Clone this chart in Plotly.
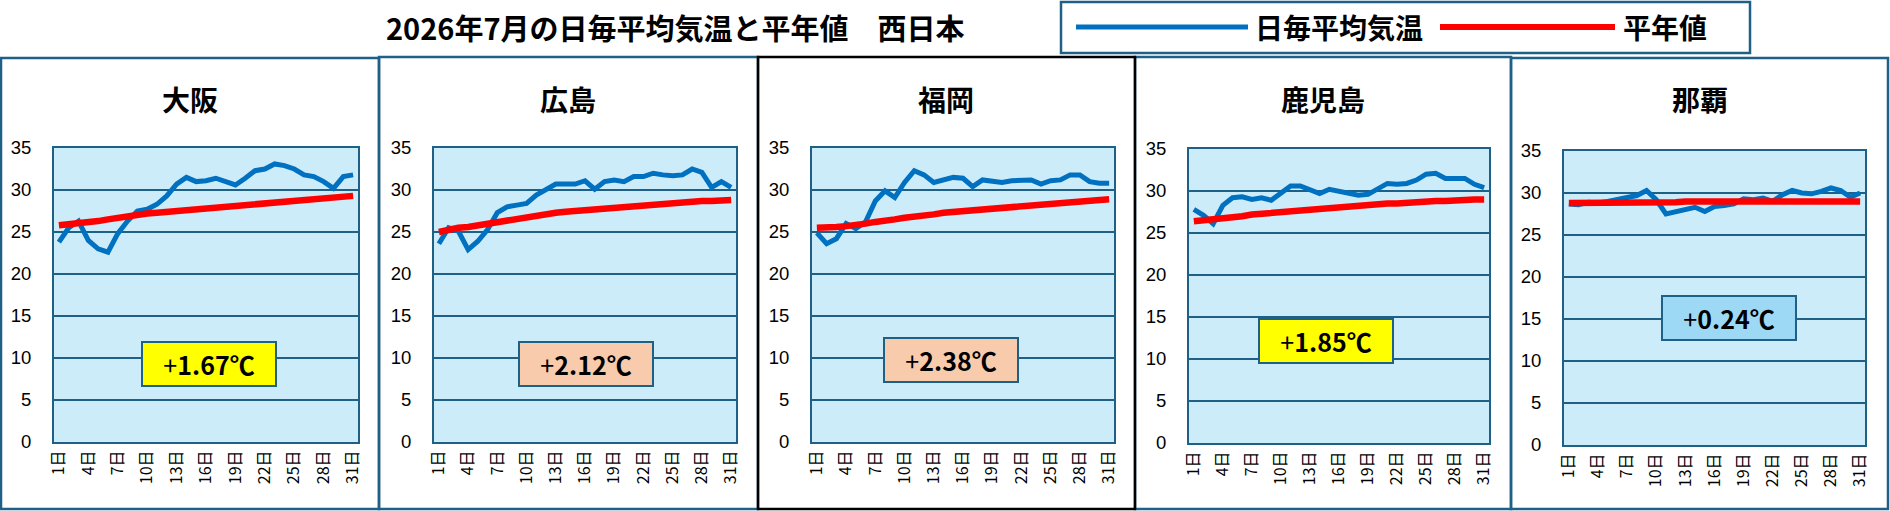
import plotly.graph_objects as go

W, H = 1890, 511

# ---------------- data ----------------
days = list(range(1, 32))
tick_days = [1, 4, 7, 10, 13, 16, 19, 22, 25, 28, 31]
tick_labels = ["1日", "4日", "7日", "10日", "13日", "16日", "19日", "22日", "25日", "28日", "31日"]
y_ticks = [0, 5, 10, 15, 20, 25, 30, 35]

stations = ["大阪", "広島", "福岡", "鹿児島", "那覇"]
anomaly_values = ["1.67", "2.12", "2.38", "1.85", "0.24"]
series_names = ["日毎平均気温", "平年値"]

osaka_daily = [23.8, 25.5, 26.3, 24.0, 23.0, 22.6, 24.8, 26.3, 27.5, 27.7, 28.3, 29.3, 30.7, 31.5, 31.0, 31.1,
               31.4, 31.0, 30.6, 31.4, 32.3, 32.5, 33.1, 32.9, 32.5, 31.8, 31.6, 31.0, 30.2, 31.6, 31.8]
osaka_normal = [25.8, 25.9, 26.0, 26.1, 26.3, 26.5, 26.7, 26.9, 27.1, 27.2, 27.3, 27.4, 27.5, 27.6, 27.7, 27.8,
                27.9, 28.0, 28.1, 28.2, 28.3, 28.4, 28.5, 28.6, 28.8, 28.9, 29.0, 29.1, 29.2, 29.3, 29.3]

hiroshima_daily = [23.6, 25.5, 25.1, 22.9, 23.9, 25.3, 27.3, 28.0, 28.2, 28.4, 29.4, 30.1, 30.7, 30.7, 30.7, 31.1,
                   30.1, 31.0, 31.2, 31.0, 31.6, 31.6, 32.0, 31.8, 31.7, 31.8, 32.5, 32.1, 30.3, 31.0, 30.3]
hiroshima_normal = [25.0, 25.3, 25.5, 25.6, 25.8, 26.0, 26.2, 26.4, 26.6, 26.8, 27.0, 27.2, 27.3, 27.4, 27.5, 27.6,
                    27.7, 27.8, 27.9, 28.0, 28.1, 28.2, 28.3, 28.4, 28.5, 28.5, 28.6, 28.7, 28.7, 28.8, 28.8]

fukuoka_daily = [24.9, 23.6, 24.2, 26.0, 25.4, 26.2, 28.7, 29.9, 29.1, 30.9, 32.3, 31.8, 30.9, 31.2, 31.5, 31.4,
                 30.4, 31.2, 31.0, 30.9, 31.1, 31.1, 31.2, 30.7, 31.1, 31.2, 31.8, 31.8, 31.0, 30.8, 30.8]
fukuoka_normal = [25.5, 25.5, 25.6, 25.7, 25.8, 26.0, 26.2, 26.3, 26.5, 26.7, 26.8, 27.0, 27.1, 27.3, 27.4, 27.5,
                  27.6, 27.7, 27.8, 27.9, 28.0, 28.1, 28.2, 28.3, 28.4, 28.5, 28.6, 28.6, 28.7, 28.8, 28.9]

kagoshima_daily = [27.8, 27.1, 26.1, 28.3, 29.2, 29.3, 29.0, 29.2, 28.9, 29.7, 30.6, 30.6, 30.1, 29.7, 30.2, 30.0,
                   29.7, 29.5, 29.6, 30.3, 30.9, 30.8, 30.9, 31.3, 32.0, 32.1, 31.5, 31.5, 31.5, 30.8, 30.4]
kagoshima_normal = [26.4, 26.5, 26.6, 26.8, 26.9, 27.0, 27.2, 27.3, 27.4, 27.5, 27.6, 27.7, 27.8, 27.9, 28.0, 28.1,
                    28.2, 28.2, 28.3, 28.4, 28.5, 28.5, 28.6, 28.7, 28.7, 28.8, 28.8, 28.9, 28.9, 29.0, 29.0]

naha_daily = [28.7, 28.6, 28.9, 28.8, 29.0, 29.2, 29.4, 29.7, 30.3, 29.2, 27.5, 27.8, 28.0, 28.3, 27.8, 28.4,
              28.5, 28.7, 29.3, 29.2, 29.4, 29.0, 29.8, 30.3, 30.0, 29.9, 30.2, 30.6, 30.3, 29.5, 30.0]
naha_normal = [28.8, 28.8, 28.8, 28.8, 28.8, 28.8, 28.9, 28.9, 28.9, 28.9, 28.9, 28.9, 29.0, 29.0, 29.0, 29.0,
               29.0, 29.0, 29.1, 29.1, 29.1, 29.1, 29.1, 29.1, 29.1, 29.1, 29.1, 29.1, 29.1, 29.1, 29.0]

daily_series = [osaka_daily, hiroshima_daily, fukuoka_daily, kagoshima_daily, naha_daily]
normal_series = [osaka_normal, hiroshima_normal, fukuoka_normal, kagoshima_normal, naha_normal]

# ---------------- style / layout (pixels) ----------------
TEAL = "#1F6086"
PLOT_BG = "#CCECFA"
BLUE = "#0070C0"
RED = "#FF0000"
JP = "Noto Sans CJK JP"
NUM = "Liberation Sans, Arial"

panels = [  # box left, box right, box top, box bottom, border color
    (1, 379, 58, 509, TEAL),
    (379, 758, 57, 509, TEAL),
    (1135, 1511, 57, 509, TEAL),
    (1511, 1888, 58, 509, TEAL),
    (758, 1135, 57, 509, "#000000"),
]
plot_areas = [  # left, right, top, bottom
    (54, 358, 148, 442),
    (434, 736, 148, 442),
    (812, 1114, 148, 442),
    (1189, 1489, 149, 443),
    (1564, 1865, 151, 445),
]
title_x = [190, 568, 946, 1323, 1700]
anno_boxes = [(209, 364), (586, 364), (951, 360), (1326, 341), (1729, 318)]
anno_colors = ["#FFFF00", "#F8CBAD", "#F8CBAD", "#FFFF00", "#9DD9F5"]

# legend drawn as a box with two swatches and labels (pixel positions)
legend_box = (1061, 1750, 2, 53)
legend_swatches = [(1076, 1248, BLUE, 5), (1440, 1615, RED, 6)]
legend_text_x = [1253, 1621]
legend_y = 27


def px(x):
    return x / W


def py(y):
    return 1 - y / H


fig = go.Figure()

for i in range(5):
    ax = "" if i == 0 else str(i + 1)
    fig.add_trace(go.Scatter(
        x=days, y=daily_series[i], mode="lines", name=series_names[0],
        line=dict(color=BLUE, width=5), xaxis="x" + ax, yaxis="y" + ax, showlegend=False,
    ))
    fig.add_trace(go.Scatter(
        x=days, y=normal_series[i], mode="lines", name=series_names[1],
        line=dict(color=RED, width=6.5), xaxis="x" + ax, yaxis="y" + ax, showlegend=False,
    ))

layout = dict(
    width=W, height=H,
    margin=dict(l=0, r=0, t=0, b=0, pad=0, autoexpand=False),
    paper_bgcolor="white",
    plot_bgcolor=PLOT_BG,
    font=dict(family=JP, color="black"),
    showlegend=False,
)

for i in range(5):
    l, r, t, b = plot_areas[i]
    ax = "" if i == 0 else str(i + 1)
    layout["xaxis" + ax] = dict(
        domain=[px(l), px(r)], anchor="y" + ax, range=[0.5, 31.5],
        tickmode="array", tickvals=tick_days, ticktext=tick_labels,
        tickangle=-90, tickfont=dict(size=16, family=JP, color="black"),
        showgrid=False, zeroline=False, showline=True, mirror=True,
        linecolor=TEAL, linewidth=2, ticks="", fixedrange=True, automargin=False,
    )
    layout["yaxis" + ax] = dict(
        domain=[py(b), py(t)], anchor="x" + ax, range=[0, 35],
        tickmode="array", tickvals=y_ticks,
        tickfont=dict(size=18.5, family=NUM, color="black"),
        showgrid=True, gridcolor=TEAL, gridwidth=2, zeroline=False,
        showline=True, mirror=True, linecolor=TEAL, linewidth=2,
        ticks="", ticklabelstandoff=17, fixedrange=True, automargin=False,
    )

fig.update_layout(**layout)

shapes = []
for (l, r, t, b, c) in panels:
    shapes.append(dict(type="rect", xref="paper", yref="paper",
                       x0=px(l), x1=px(r), y0=py(b), y1=py(t),
                       line=dict(color=c, width=2.5), fillcolor="rgba(0,0,0,0)", layer="below"))
lb = legend_box
shapes.append(dict(type="rect", xref="paper", yref="paper",
                   x0=px(lb[0]), x1=px(lb[1]), y0=py(lb[3]), y1=py(lb[2]),
                   line=dict(color=TEAL, width=2.5), fillcolor="white"))
for (x0, x1, c, w) in legend_swatches:
    shapes.append(dict(type="line", xref="paper", yref="paper",
                       x0=px(x0), x1=px(x1), y0=py(legend_y), y1=py(legend_y),
                       line=dict(color=c, width=w)))
fig.update_layout(shapes=shapes)

annotations = [dict(
    text="2026年7月の日毎平均気温と平年値　西日本", x=px(675), y=py(27),
    xref="paper", yref="paper", showarrow=False,
    font=dict(size=29, family=JP, color="black", weight="bold"),
    xanchor="center", yanchor="middle",
)]
for k in range(2):
    annotations.append(dict(
        text=series_names[k], x=px(legend_text_x[k]), y=py(legend_y),
        xref="paper", yref="paper", showarrow=False,
        font=dict(size=28, family=JP, color="black", weight="bold"),
        xanchor="left", yanchor="middle",
    ))
for i in range(5):
    annotations.append(dict(
        text=stations[i], x=px(title_x[i]), y=py(99), xref="paper", yref="paper",
        showarrow=False, font=dict(size=28, family=JP, color="black", weight="bold"),
        xanchor="center", yanchor="middle",
    ))
    cx, cy = anno_boxes[i]
    annotations.append(dict(
        text="<span style='font-weight:normal'>+</span>" + anomaly_values[i] + "℃",
        x=px(cx), y=py(cy), xref="paper", yref="paper",
        showarrow=False, font=dict(size=25, family=JP, color="black", weight="bold"),
        xanchor="center", yanchor="middle", bgcolor=anno_colors[i],
        bordercolor=TEAL, borderwidth=2, borderpad=0, width=132, height=42,
    ))
fig.update_layout(annotations=annotations)

fig.write_html(
    "out.html",
    config={"displayModeBar": False, "staticPlot": True},
    post_script="document.body.style.margin='0';document.body.style.overflow='hidden';",
)
